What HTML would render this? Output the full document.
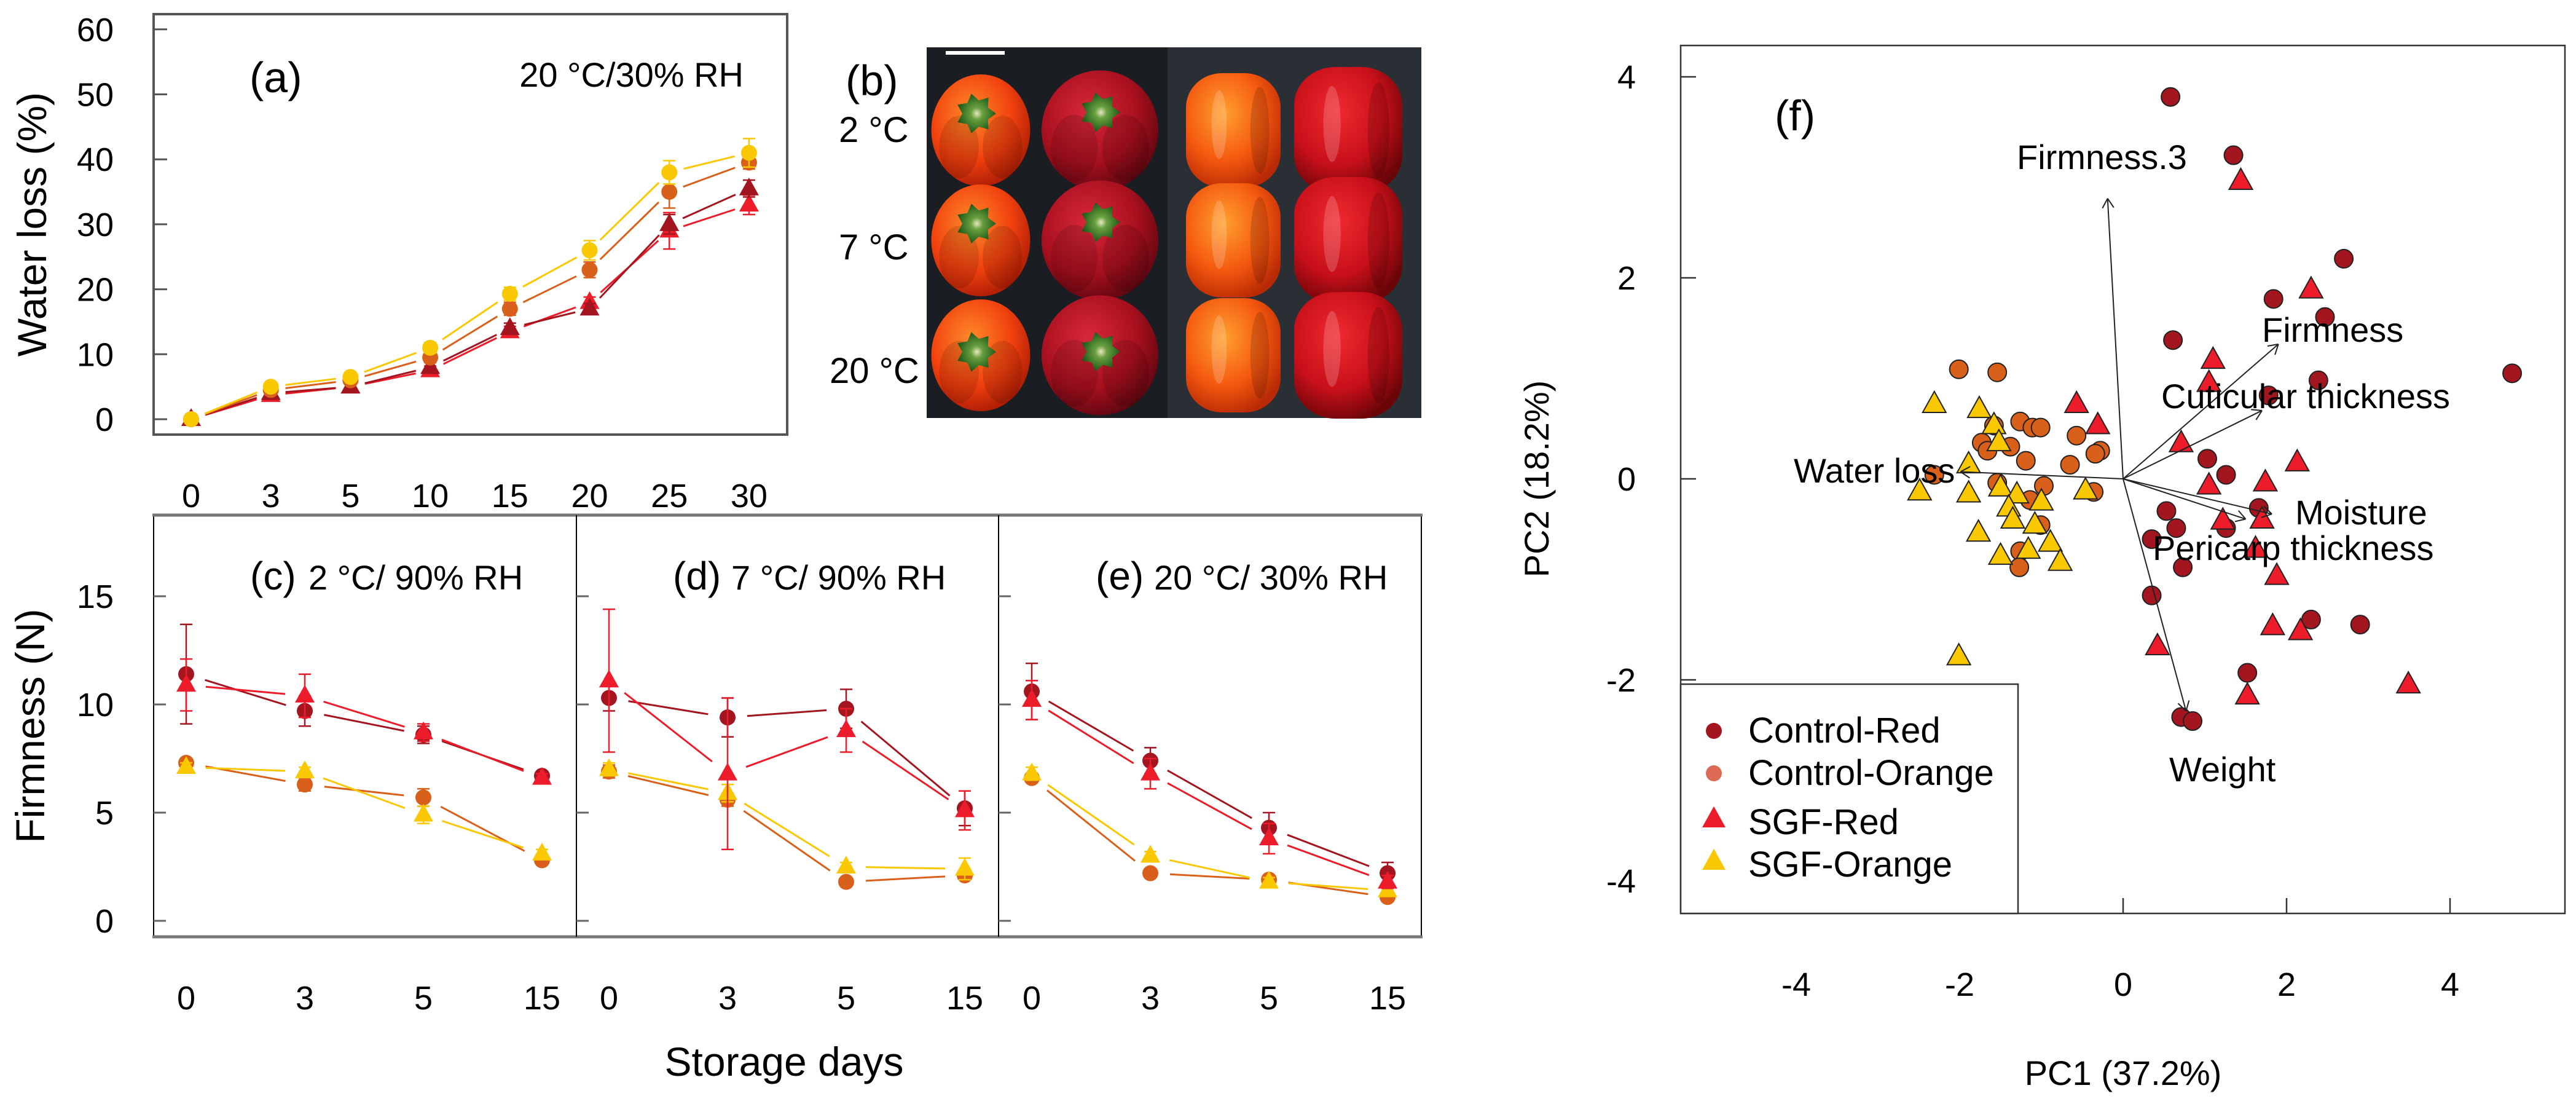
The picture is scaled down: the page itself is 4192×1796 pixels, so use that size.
<!DOCTYPE html>
<html><head><meta charset="utf-8">
<style>
html,body{margin:0;padding:0;background:#fff;}
svg{display:block;font-family:"Liberation Sans",Arial,sans-serif;}
</style></head>
<body>
<svg id="fig" width="4192" height="1796" viewBox="0 0 4192 1796" xmlns="http://www.w3.org/2000/svg">
<defs>
<radialGradient id="gOr" cx="40%" cy="35%" r="70%"><stop offset="0" stop-color="#ff8a2a"/><stop offset="0.6" stop-color="#f0400e"/><stop offset="1" stop-color="#a81a05"/></radialGradient>
<radialGradient id="gRd" cx="40%" cy="35%" r="70%"><stop offset="0" stop-color="#d8283a"/><stop offset="0.6" stop-color="#a8101e"/><stop offset="1" stop-color="#5a0610"/></radialGradient>
<radialGradient id="gOrS" cx="40%" cy="35%" r="70%"><stop offset="0" stop-color="#ffa030"/><stop offset="0.6" stop-color="#f4580f"/><stop offset="1" stop-color="#b82a05"/></radialGradient>
<radialGradient id="gRdS" cx="40%" cy="35%" r="70%"><stop offset="0" stop-color="#f02a30"/><stop offset="0.6" stop-color="#c8101a"/><stop offset="1" stop-color="#6a0508"/></radialGradient>
<radialGradient id="gSt" cx="50%" cy="50%" r="50%"><stop offset="0" stop-color="#e8e8c0"/><stop offset="0.3" stop-color="#6aa040"/><stop offset="1" stop-color="#1f5a18"/></radialGradient>
</defs>
<g id="root"></g>
</svg>
<script>
// ---------- Panel (a) data: water loss ----------
const daysA = ["0","3","5","10","15","20","25","30"];
const wlSGFOrange = [0, 5.0, 6.5, 11.0, 19.3, 26.0, 38.0, 41.0];
const wlCtrlOrange = [0, 4.5, 6.0, 9.5, 17.0, 23.0, 35.0, 39.5];
const wlCtrlRed = [0, 4.0, 5.0, 8.0, 14.0, 17.0, 30.0, 35.5];
const wlSGFRed = [0, 3.7, 5.0, 7.5, 13.5, 18.0, 29.0, 33.0];
const wlErrSO = [0, 0.5, 0.6, 0.8, 1.0, 1.5, 1.8, 2.2];
const wlErrCO = [0, 0.5, 0.6, 0.8, 1.0, 1.2, 2.5, 1.0];
const wlErrCR = [0, 0.5, 0.6, 0.7, 0.8, 0.8, 1.5, 1.3];
const wlErrSR = [0, 0.5, 0.6, 0.7, 0.8, 0.8, 2.8, 1.5];
const yTicksA = [0, 10, 20, 30, 40, 50, 60];

// ---------- Panels (c)(d)(e) data: firmness ----------
const daysF = ["0","3","5","15"];
const panelTitles = ["2 °C/ 90% RH", "7 °C/ 90% RH", "20 °C/ 30% RH"];
const panelLetters = ["(c)", "(d)", "(e)"];
const fCtrlRed = [[11.4, 9.7, 8.6, 6.7],[10.3, 9.4, 9.8, 5.2],[10.6, 7.4, 4.3, 2.2]];
const fSGFRed = [[10.9, 10.4, 8.7, 6.6],[11.1, 6.8, 8.8, 5.1],[10.2, 6.8, 3.8, 1.8]];
const fCtrlOrange = [[7.3, 6.3, 5.7, 2.8],[6.9, 5.6, 1.8, 2.1],[6.6, 2.2, 1.9, 1.1]];
const fSGFOrange = [[7.1, 6.9, 4.9, 3.1],[7.0, 5.9, 2.5, 2.4],[6.8, 3.0, 1.8, 1.4]];
const fErrCR = [[2.3, 0.7, 0.4, 0.2],[0.6, 0.9, 0.9, 0.8],[1.3, 0.6, 0.7, 0.5]];
const fErrSR = [[1.2, 1.0, 0.4, 0.2],[3.3, 3.5, 1.0, 0.9],[0.9, 0.7, 0.7, 0.3]];
const fErrCO = [[0.2, 0.3, 0.4, 0.2],[0.3, 0.3, 0.2, 0.2],[0.2, 0.2, 0.2, 0.2]];
const fErrSO = [[0.2, 0.2, 0.4, 0.2],[0.3, 0.4, 0.2, 0.5],[0.3, 0.2, 0.2, 0.2]];
const yTicksF = [0, 5, 10, 15];

// ---------- Panel (f) data: PCA ----------
const crX = [0.58,1.35,2.70,1.84,2.47,0.61,2.39,4.76,1.78,1.03,1.26,0.53,0.65,0.35,1.26,0.73,0.35,1.66,2.30,2.90,1.52,0.71,0.85];
const crY = [3.80,3.22,2.19,1.79,1.61,1.38,0.98,1.05,0.83,0.20,0.04,-0.32,-0.49,-0.60,-0.49,-0.88,-1.16,-0.29,-1.40,-1.45,-1.93,-2.37,-2.41];
const srX = [1.44,2.30,1.10,1.05,-0.57,-0.31,0.71,2.13,1.74,1.05,1.22,1.70,1.62,1.88,1.83,2.17,0.42,1.52,3.49];
const srY = [2.96,1.88,1.18,0.95,0.74,0.53,0.35,0.16,-0.04,-0.07,-0.42,-0.41,-0.70,-0.97,-1.47,-1.52,-1.67,-2.16,-2.05];
const coX = [-2.01,-1.54,-1.26,-1.11,-1.01,-1.58,-1.73,-1.66,-1.38,-0.57,-0.28,-0.34,-0.65,-1.19,-2.31,-1.54,-0.97,-0.36,-1.14,-1.01,-1.26,-1.27];
const coY = [1.09,1.06,0.57,0.51,0.51,0.53,0.36,0.28,0.32,0.43,0.28,0.25,0.14,0.18,0.04,-0.04,-0.07,-0.13,-0.21,-0.46,-0.72,-0.88];
const soX = [-2.31,-1.76,-1.58,-1.52,-1.89,-2.49,-1.89,-1.50,-1.30,-1.00,-1.40,-0.46,-1.08,-1.35,-1.77,-0.89,-1.16,-1.50,-0.77,-2.01];
const soY = [0.74,0.69,0.53,0.36,0.14,-0.13,-0.15,-0.09,-0.16,-0.23,-0.29,-0.12,-0.46,-0.41,-0.54,-0.64,-0.71,-0.77,-0.83,-1.77];
const loadNames = ["Firmness.3","Firmness","Cuticular thickness","Moisture","Pericarp thickness","Weight","Water loss"];
const loadX = [-0.19, 1.90, 1.70, 1.82, 1.50, 0.77, -1.99];
const loadY = [2.79, 1.34, 0.68, -0.35, -0.40, -2.31, 0.07];
const ticksPC = [-4, -2, 0, 2, 4];

const C = {cr:"#a3151f", co:"#d9601a", sr:"#ec1c2a", so:"#f9c800"};
const NS = "http://www.w3.org/2000/svg";
const root = document.getElementById("root");
function mk(tag, attrs, parent){
  const e = document.createElementNS(NS, tag);
  for (const k in attrs) e.setAttribute(k, attrs[k]);
  (parent||root).appendChild(e);
  return e;
}
function txt(s, attrs, parent){ const e = mk("text", attrs, parent); e.textContent = s; return e; }

function circle(g, x, y, r, fill, stroke){
  const e = mk("circle", {cx:x, cy:y, r:r, fill:fill, stroke:stroke||"none", "stroke-width":2}, g);
  return e;
}
function tri(g, x, y, s, fill, stroke){
  const h = s*0.9;
  const e = mk("polygon", {points:`${x},${y-h*0.62} ${x-s/2},${y+h*0.38} ${x+s/2},${y+h*0.38}`, fill:fill, stroke:stroke||"none", "stroke-width":2}, g);
  return e;
}
function gapLine(g, x1, y1, x2, y2, col, gap){
  const dx = x2-x1, dy = y2-y1, L = Math.hypot(dx,dy);
  if (L < 2*gap) return;
  const ux = dx/L, uy = dy/L;
  mk("line", {x1:x1+ux*gap, y1:y1+uy*gap, x2:x2-ux*gap, y2:y2-uy*gap, stroke:col, "stroke-width":3}, g);
}
function errBar(g, x, y1, y2, col){
  mk("line", {x1:x, y1:y1, x2:x, y2:y2, stroke:col, "stroke-width":2.5}, g);
  mk("line", {x1:x-10, y1:y1, x2:x+10, y2:y1, stroke:col, "stroke-width":2.5}, g);
  mk("line", {x1:x-10, y1:y2, x2:x+10, y2:y2, stroke:col, "stroke-width":2.5}, g);
}

// ================= Panel (a) =================
const ga = mk("g", {});


const xa = i => 311 + i*129.7;
const ya = v => 682 - v*10.57;
const fa = mk("rect", {x:250, y:23, width:1031, height:684, fill:"none", stroke:"#555", "stroke-width":4}, ga);


yTicksA.forEach(v => {
  mk("line", {x1:250, y1:ya(v), x2:272, y2:ya(v), stroke:"#555", "stroke-width":3}, ga);
  const t = txt(String(v), {x:185, y:ya(v)+19, "font-size":54, "text-anchor":"end"}, ga);
  
  
});
daysA.forEach((d,i) => {
  const t = txt(d, {x:xa(i), y:825, "font-size":54, "text-anchor":"middle"}, ga);
  
  
});
const yta = txt("Water loss (%)", {x:0, y:0, "font-size":66, "text-anchor":"middle", transform:"translate(75,365) rotate(-90)"}, ga);


const la = txt("(a)", {x:406, y:150, "font-size":70}, ga);


const ca = txt("20 °C/30% RH", {x:1210, y:141, "font-size":56, "text-anchor":"end"}, ga);


const seriesA = [
  {v:wlSGFRed, e:wlErrSR, c:C.sr, m:"tri", n:"series-sgf-red-a"},
  {v:wlCtrlRed, e:wlErrCR, c:C.cr, m:"tri", n:"series-control-red-a"},
  {v:wlCtrlOrange, e:wlErrCO, c:C.co, m:"circ", n:"series-control-orange-a"},
  {v:wlSGFOrange, e:wlErrSO, c:C.so, m:"circ", n:"series-sgf-orange-a"}
];
seriesA.forEach(s => {
  const g = mk("g", {}, ga);
  
  
  for (let i=0;i<s.v.length-1;i++) gapLine(g, xa(i), ya(s.v[i]), xa(i+1), ya(s.v[i+1]), s.c, 24);
  s.v.forEach((v,i) => {
    if (s.e[i] > 0.6) errBar(g, xa(i), ya(v+s.e[i]), ya(v-s.e[i]), s.c);
    if (s.m === "tri") tri(g, xa(i), ya(v), 32, s.c); else circle(g, xa(i), ya(v), 13, s.c);
  });
});

// ================= Panel (b) photo =================
const gb = mk("g", {});


const lb = txt("(b)", {x:1376, y:155, "font-size":70}, gb);


[["2 °C",1365,231],["7 °C",1365,422],["20 °C",1350,623]].forEach(r => {
  const t = txt(r[0], {x:r[1], y:r[2], "font-size":58}, gb);
  
  
});
mk("rect", {x:1508, y:77, width:805, height:603, fill:"#1a1d22"}, gb);
mk("rect", {x:1900, y:77, width:413, height:603, fill:"#2a2f35"}, gb);
mk("rect", {x:1539, y:83, width:96, height:6, fill:"#fff"}, gb);
const colsX = [1596, 1790, 2007, 2194];
const rowsY = [212, 391, 578];
const pw = [[161,182],[190,195],[154,186],[176,206]];
const fills = ["url(#gOr)","url(#gRd)","url(#gOrS)","url(#gRdS)"];
rowsY.forEach((ry,ri) => colsX.forEach((cx,ci) => {
  const p = mk("g", {}, gb);
  
  
  const w = pw[ci][0], h = pw[ci][1];
  if (ci < 2) {
    mk("ellipse", {cx:cx, cy:ry, rx:w/2, ry:h/2, fill:fills[ci]}, p);
    mk("ellipse", {cx:cx-w*0.22, cy:ry+h*0.15, rx:w*0.2, ry:h*0.28, fill:"#000", opacity:0.12}, p);
    mk("ellipse", {cx:cx+w*0.22, cy:ry+h*0.15, rx:w*0.2, ry:h*0.28, fill:"#000", opacity:0.12}, p);
    const sx = cx + (ci===1?0:-8), sy = ry - h*0.15 + (ri===2?h*0.12:0);
    let pts = [];
    for (let k=0;k<14;k++){ const a=k*Math.PI/7; const rr = k%2?22:33; pts.push((sx+rr*Math.cos(a)).toFixed(1)+","+(sy+rr*Math.sin(a)).toFixed(1)); }
    mk("polygon", {points:pts.join(" "), fill:"url(#gSt)"}, p);
  } else {
    mk("rect", {x:cx-w/2, y:ry-h/2, width:w, height:h, rx:w*0.38, ry:h*0.3, fill:fills[ci]}, p);
    mk("ellipse", {cx:cx-w*0.15, cy:ry-h*0.05, rx:w*0.08, ry:h*0.3, fill:"#fff", opacity:0.18}, p);
    mk("ellipse", {cx:cx+w*0.28, cy:ry, rx:w*0.1, ry:h*0.38, fill:"#000", opacity:0.15}, p);
  }
}));

// ================= Panels (c)(d)(e) =================
const gf = mk("g", {});


const px = (p,i) => 303 + p*688 + i*193;
const yf = v => 1498 - v*35.2;
const ff = mk("rect", {x:250, y:838, width:2063, height:686, fill:"none", stroke:"#000", "stroke-width":2}, gf);


mk("line", {x1:248, y1:838, x2:2315, y2:838, stroke:"#777", "stroke-width":5}, gf);
mk("line", {x1:248, y1:1524, x2:2315, y2:1524, stroke:"#777", "stroke-width":5}, gf);
[938, 1625].forEach(x => mk("line", {x1:x, y1:838, x2:x, y2:1524, stroke:"#000", "stroke-width":2}, gf));
yTicksF.forEach(v => {
  [250, 938, 1625].forEach(x0 => mk("line", {x1:x0, y1:yf(v), x2:x0+20, y2:yf(v), stroke:"#666", "stroke-width":3}, gf));
  const t = txt(String(v), {x:185, y:yf(v)+19, "font-size":54, "text-anchor":"end"}, gf);
  
  
});
const ytf = txt("Firmness (N)", {x:0, y:0, "font-size":66, "text-anchor":"middle", transform:"translate(72,1181) rotate(-90)"}, gf);


const xtf = txt("Storage days", {x:1276, y:1750, "font-size":66, "text-anchor":"middle"}, gf);


for (let p=0;p<3;p++){
  const g = mk("g", {}, gf);
  
  
  const left = 250 + p*688;
  const t1 = txt(panelLetters[p], {x:left+157, y:959, "font-size":64}, g);
  
  
  const t2 = txt(panelTitles[p], {x:left+252, y:959, "font-size":56}, g);
  
  
  daysF.forEach((d,i) => {
    const t = txt(d, {x:px(p,i), y:1642, "font-size":54, "text-anchor":"middle"}, g);
    
    
  });
  const ser = [
    {v:fCtrlOrange[p], e:fErrCO[p], c:C.co, m:"circ"},
    {v:fSGFOrange[p], e:fErrSO[p], c:C.so, m:"tri"},
    {v:fCtrlRed[p], e:fErrCR[p], c:C.cr, m:"circ"},
    {v:fSGFRed[p], e:fErrSR[p], c:C.sr, m:"tri"}
  ];
  ser.forEach(s => {
    const sg = mk("g", {}, g);
    
    
    for (let i=0;i<3;i++) gapLine(sg, px(p,i), yf(s.v[i]), px(p,i+1), yf(s.v[i+1]), s.c, 32);
    s.v.forEach((v,i) => {
      errBar(sg, px(p,i), yf(v+s.e[i]), yf(v-s.e[i]), s.c);
      if (s.m === "tri") tri(sg, px(p,i), yf(v), 32, s.c); else circle(sg, px(p,i), yf(v), 13, s.c);
    });
  });
}

// ================= Panel (f) PCA =================
const gp = mk("g", {});


const fx = v => 3455 + v*133;
const fy = v => 779 - v*163.5;
const fr = mk("rect", {x:2735, y:74, width:1439, height:1412, fill:"none", stroke:"#333", "stroke-width":2.5}, gp);


ticksPC.forEach(v => {
  mk("line", {x1:2735, y1:fy(v), x2:2760, y2:fy(v), stroke:"#333", "stroke-width":2.5}, gp);
  const ty = txt(String(v), {x:2662, y:fy(v)+19, "font-size":54, "text-anchor":"end"}, gp);
  
  
  mk("line", {x1:fx(v), y1:1486, x2:fx(v), y2:1461, stroke:"#333", "stroke-width":2.5}, gp);
  const tx = txt(String(v), {x:fx(v), y:1620, "font-size":54, "text-anchor":"middle"}, gp);
  
  
});
const xpc = txt("PC1 (37.2%)", {x:3455, y:1765, "font-size":56, "text-anchor":"middle"}, gp);


const ypc = txt("PC2 (18.2%)", {x:0, y:0, "font-size":56, "text-anchor":"middle", transform:"translate(2520,779) rotate(-90)"}, gp);


const lf = txt("(f)", {x:2888, y:212, "font-size":70}, gp);


function ptsGroup(xs, ys, col, m, name){
  const g = mk("g", {}, gp);
  
  
  xs.forEach((x,i) => {
    if (m === "tri") tri(g, fx(x), fy(ys[i]), 38, col, "#222"); else circle(g, fx(x), fy(ys[i]), 15, col, "#222");
  });
}
ptsGroup(coX, coY, C.co, "circ", "points-control-orange");
ptsGroup(soX, soY, C.so, "tri", "points-sgf-orange");
ptsGroup(crX, crY, C.cr, "circ", "points-control-red");
ptsGroup(srX, srY, C.sr, "tri", "points-sgf-red");
// loadings
const labelPos = [[3282,275,"start"],[3681,556,"start"],[3517,664,"start"],[3735,853,"start"],[3503,911,"start"],[3530,1271,"start"],[2919,785,"start"]];
loadNames.forEach((n,i) => {
  const g = mk("g", {}, gp);
  
  
  const x2 = fx(loadX[i]), y2 = fy(loadY[i]);
  mk("line", {x1:fx(0), y1:fy(0), x2:x2, y2:y2, stroke:"#222", "stroke-width":2}, g);
  const a = Math.atan2(y2-fy(0), x2-fx(0));
  [a+2.6, a-2.6].forEach(b => mk("line", {x1:x2, y1:y2, x2:x2+18*Math.cos(b), y2:y2+18*Math.sin(b), stroke:"#222", "stroke-width":2}, g));
  const t = txt(n, {x:labelPos[i][0], y:labelPos[i][1], "font-size":56}, g);
  
  
});
// legend
const lg = mk("g", {}, gp);


mk("rect", {x:2735, y:1113, width:549, height:373, fill:"#fff", stroke:"#333", "stroke-width":2.5}, lg);
const legNames = ["Control-Red","Control-Orange","SGF-Red","SGF-Orange"];
const legCols = [C.cr, "#de6a55", C.sr, C.so];
const legY = [1208, 1277, 1357, 1426];
legNames.forEach((n,i) => {
  const eg = mk("g", {}, lg);
  
  
  if (i < 2) circle(eg, 2789, legY[i]-19, 13, legCols[i]); else tri(eg, 2789, legY[i]-24, 38, legCols[i]);
  txt(n, {x:2845, y:legY[i], "font-size":58}, eg);
});
</script>
</body></html>
